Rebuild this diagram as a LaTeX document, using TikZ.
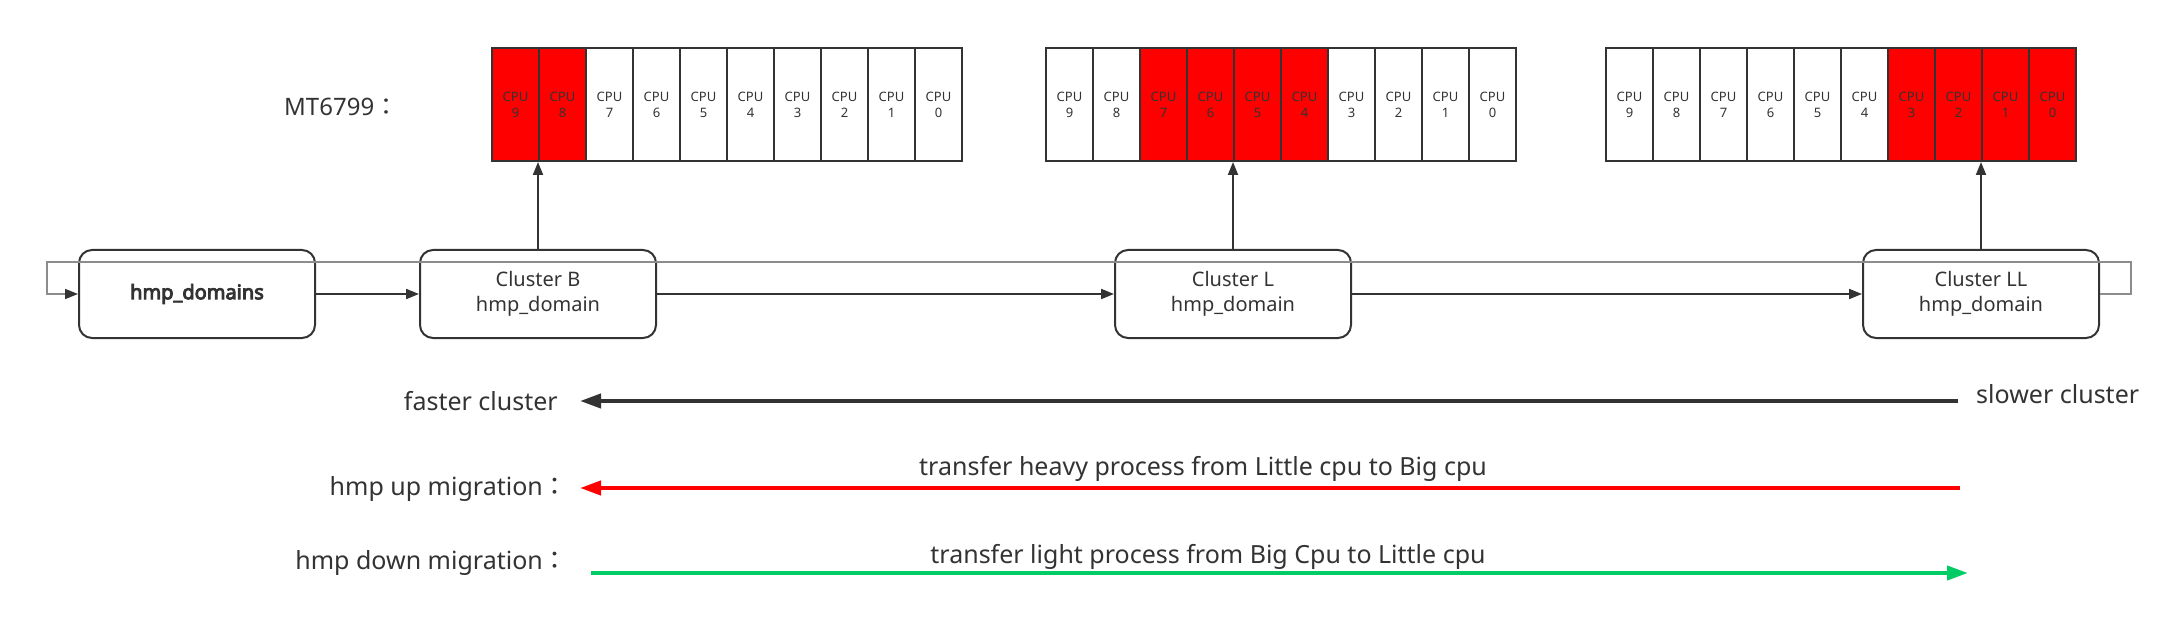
\documentclass[tikz,border=0pt]{standalone}
\usepackage{fontspec}
\setmainfont{Noto Sans}[AutoFakeBold=4.5]
\newfontfamily\cjk{Noto Sans CJK TC}
\usetikzlibrary{arrows.meta}
\definecolor{txt}{HTML}{333333}
\definecolor{cpured}{HTML}{FF0000}
\definecolor{downgreen}{HTML}{00CC66}
\definecolor{fbgray}{HTML}{8C8C8C}
\begin{document}
\begin{tikzpicture}[x=1pt,y=-1pt,
  cell/.style={draw=txt, line width=2pt, minimum width=47pt, minimum height=113pt,
    inner sep=0pt, align=center, font=\fontsize{13}{16}\selectfont, text=txt, anchor=north west},
  cluster/.style={draw=txt, line width=2pt, rounded corners=13pt, minimum width=236pt,
    minimum height=88pt, align=center, font=\fontsize{20}{25}\selectfont, text=txt},
  link/.style={draw=txt, line width=2pt, -{Triangle[length=13pt,width=10pt]}},
  feedback/.style={draw=fbgray, line width=1.6pt, -{Triangle[length=13pt,width=10pt,color=txt]}},
  bigarrow/.style={line width=4pt, -{Triangle[length=21pt,width=14pt]}},
  lbl/.style={font=\fontsize{25}{30}\selectfont, text=txt, inner sep=0pt}
]
\useasboundingbox (0,0) rectangle (2175,628);

% title
\node[lbl, font=\fontsize{24}{28}\selectfont, anchor=west] (mt) at (284,107) {MT6799{\cjk ：}};

% CPU rows
\foreach \r/\x/\a/\b in {1/491/0/1, 2/1045/2/5, 3/1605/6/9} {
  \foreach \i in {0,...,9} {
    \pgfmathtruncatemacro\n{9-\i}
    \pgfmathtruncatemacro\isred{and(\i>=\a,\i<=\b)}
    \ifnum\isred=1 \def\fillc{cpured}\else\def\fillc{white}\fi
    \node[cell, fill=\fillc] (r\r c\n) at (\x+\i*47, 47) {CPU\\\n};
  }
}

% clusters
\node[cluster, font=\bfseries\fontsize{20}{25}\selectfont] (dom) at (197,294) {hmp\_domains};
\node[cluster] (clB) at (538,294) {Cluster B\\hmp\_domain};
\node[cluster] (clL) at (1233,294) {Cluster L\\hmp\_domain};
\node[cluster] (clLL) at (1981,294) {Cluster LL\\hmp\_domain};

\draw[link] (dom) -- (clB);
\draw[link] (clB) -- (clL);
\draw[link] (clL) -- (clLL);
\draw[link] (clB.north) -- (r1c8.south west);
\draw[link] (clL.north) -- (r2c5.south west);
\draw[link] (clLL.north) -- (r3c1.south west);

% feedback loop
\coordinate (lpA) at (2131,294);
\coordinate (lpB) at (2131,262);
\coordinate (lpC) at (47,262);
\coordinate (lpD) at (47,294);
\draw[feedback] (clLL.east) -- (lpA) -- (lpB) -- (lpC) -- (lpD) -- (dom.west);

% speed arrow
\node[lbl, anchor=east] (fast) at (558,401) {faster cluster};
\node[lbl, anchor=west] (slow) at (1976,394) {slower cluster};
\coordinate (blkS) at (1958,401);
\coordinate (blkE) at (580,401);
\draw[bigarrow, draw=txt, -{Triangle[length=21pt,width=14pt,color=txt]}] (blkS) -- (blkE);

% up migration
\node[lbl, anchor=east] (up) at (568,489) {hmp up migration{\cjk ：}};
\node[lbl] (heavy) at (1203,469) {transfer heavy process from Little cpu to Big cpu};
\coordinate (redS) at (1960,488);
\coordinate (redE) at (580,488);
\draw[bigarrow, draw=cpured, -{Triangle[length=21pt,width=14pt,color=cpured]}] (redS) -- (redE);

% down migration
\node[lbl, anchor=east] (down) at (568,563) {hmp down migration{\cjk ：}};
\node[lbl] (light) at (1208,557) {transfer light process from Big Cpu to Little cpu};
\coordinate (grnS) at (591,573);
\coordinate (grnE) at (1968,573);
\draw[bigarrow, draw=downgreen, -{Triangle[length=21pt,width=14pt,color=downgreen]}] (grnS) -- (grnE);
\end{tikzpicture}
\end{document}
